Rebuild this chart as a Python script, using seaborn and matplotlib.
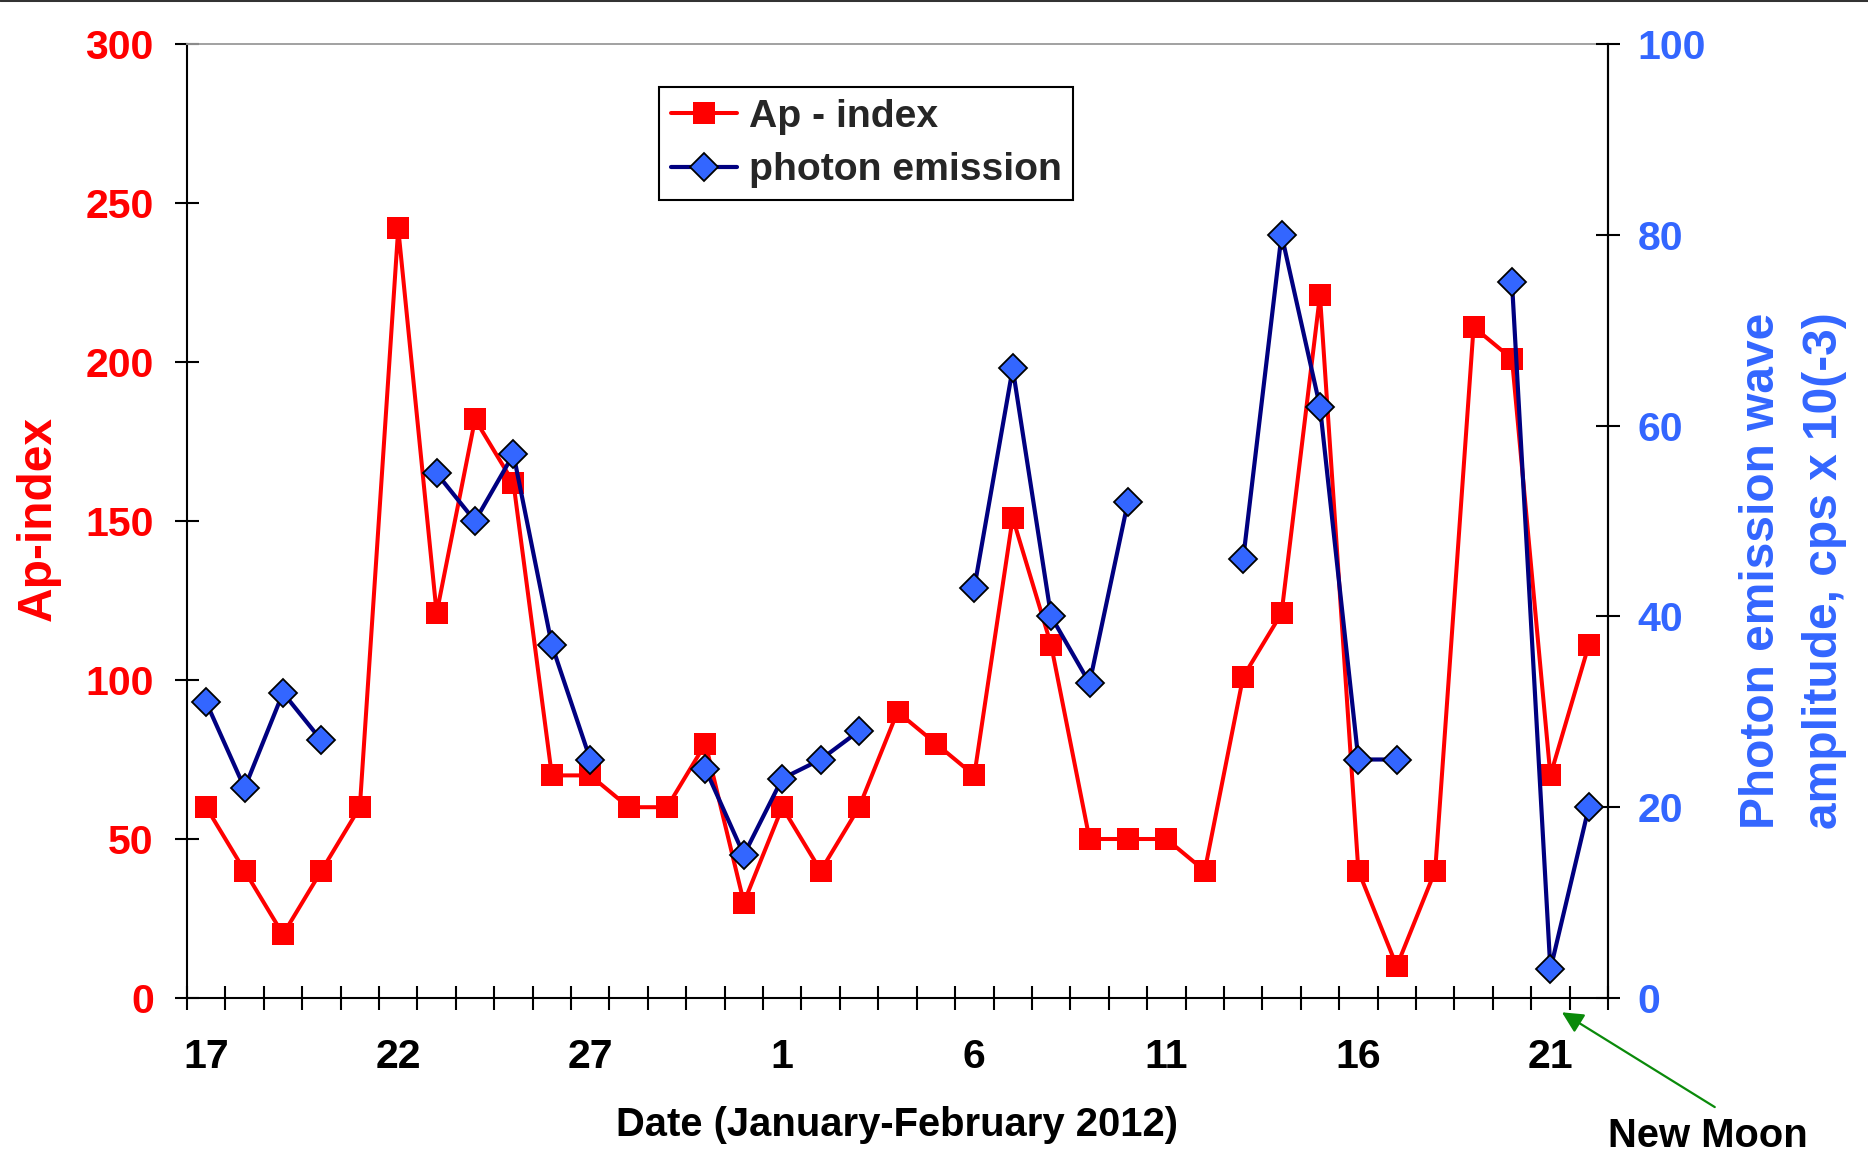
import numpy as np
import pandas as pd
import matplotlib
matplotlib.use("Agg")
import matplotlib.pyplot as plt
import seaborn as sns
from matplotlib.lines import Line2D

# Daily series, 17 January - 22 February 2012 (day 0 = 17 Jan)
days = list(range(37))
tick_days = [0, 5, 10, 15, 20, 25, 30, 35]
tick_labels = ["17", "22", "27", "1", "6", "11", "16", "21"]

ap_index = [60, 40, 20, 40, 60, 242, 121, 182, 162, 70,
            70, 60, 60, 80, 30, 60, 40, 60, 90, 80,
            70, 151, 111, 50, 50, 50, 40, 101, 121, 221,
            40, 10, 40, 211, 201, 70, 111]

nan = np.nan
photon = [31, 22, 32, 27, nan, nan, 55, 50, 57, 37,
          25, nan, nan, 24, 15, 23, 25, 28, nan, nan,
          43, 66, 40, 33, 52, nan, nan, 46, 80, 62,
          25, 25, nan, nan, 75, 3, 20]

new_moon_day = 35.3

RED = "#FF0000"
BLUE = "#3366FF"
NAVY = "#000080"

sns.set_theme(style="white")
plt.rcParams["font.family"] = ["Liberation Sans", "DejaVu Sans"]
plt.rcParams["font.weight"] = "bold"
plt.rcParams["axes.labelweight"] = "bold"

df_ap = pd.DataFrame({"day": days, "ap": ap_index})
df_ph = pd.DataFrame({"day": days, "photon": photon})
valid = df_ph["photon"].notna()
df_ph["segment"] = (valid != valid.shift()).cumsum()
df_ph = df_ph[valid]

fig = plt.figure(figsize=(18.68, 11.68), dpi=100)
ax = fig.add_axes([187 / 1868, 1 - 998 / 1168, (1608 - 187) / 1868, (998 - 44) / 1168])
ax2 = ax.twinx()

sns.lineplot(data=df_ap, x="day", y="ap", ax=ax, color=RED, lw=2.9,
             marker="s", markersize=15.5, markeredgewidth=0,
             markerfacecolor=RED, legend=False)
sns.lineplot(data=df_ph, x="day", y="photon", units="segment", estimator=None,
             ax=ax2, color=NAVY, lw=3.0, marker="D", markersize=14.5,
             markerfacecolor=BLUE, markeredgecolor="black",
             markeredgewidth=1.3, legend=False)

# x axis: day labels centred on categories, tick marks at category borders
ax.set_xlim(-0.5, 36.5)
ax.set_xticks(tick_days)
ax.set_xticklabels(tick_labels)
ax.set_xticks(np.arange(-0.5, 37, 1), minor=True)
ax.tick_params(axis="x", which="major", length=0, pad=29, labelsize=29.5,
               labelcolor="black")
ax.tick_params(axis="x", which="minor", direction="inout", length=17,
               width=1.5, color="black", bottom=True)

ax.set_ylim(0, 300)
ax.set_yticks(np.arange(0, 301, 50))
ax.tick_params(axis="y", direction="inout", length=17, width=1.5,
               color="black", labelcolor=RED, labelsize=29.5, pad=15.5, left=True)

ax2.set_ylim(0, 100)
ax2.set_yticks(np.arange(0, 101, 20))
ax2.tick_params(axis="y", direction="inout", length=17, width=1.5,
                color="black", labelcolor=BLUE, labelsize=29.5, pad=13, right=True)

for name, sp in ax.spines.items():
    sp.set_visible(True)
    sp.set_color("black")
    sp.set_linewidth(1.5)
ax.spines["top"].set_color("#9a9a9a")
ax.spines["top"].set_linewidth(1.3)
for name, sp in ax2.spines.items():
    sp.set_visible(name == "right")
ax2.spines["right"].set_color("black")
ax2.spines["right"].set_linewidth(1.5)

ax.set_xlabel("Date (January-February 2012)", fontsize=28.8, fontweight="bold",
              color="black")
ax.xaxis.set_label_coords(0.5, -0.113)
ax.set_ylabel("Ap-index", fontsize=34.5, fontweight="bold", color=RED)
ax.yaxis.set_label_coords(-0.0887, 0.503)
ax2.set_ylabel("Photon emission wave\namplitude, cps x 10(-3)", fontsize=34.5,
               fontweight="bold", color=BLUE, multialignment="center",
               linespacing=1.5)
ax2.yaxis.set_label_coords(1.0922, 0.4476)

handles = [
    Line2D([], [], color=RED, lw=2.9, marker="s", markersize=15.5,
           markeredgewidth=0),
    Line2D([], [], color=NAVY, lw=3.0, marker="D", markersize=14.5,
           markerfacecolor=BLUE, markeredgecolor="black", markeredgewidth=1.3),
]
leg = ax2.legend(handles, ["Ap - index", "photon emission"], loc="upper left",
                 bbox_to_anchor=(0.332, 0.955), frameon=True, fancybox=False,
                 framealpha=1, edgecolor="black", fontsize=28.2,
                 handlelength=1.7, handletextpad=0.3, labelspacing=0.45,
                 borderpad=0.3, borderaxespad=0)
leg.get_frame().set_linewidth(1.5)
for t in leg.get_texts():
    t.set_fontweight("bold")

# New Moon marker below the axis
ax.annotate("", xy=(new_moon_day, -4.5), xytext=(39.28, -34.3),
            xycoords="data", textcoords="data", annotation_clip=False,
            arrowprops=dict(arrowstyle="-|>", color="#0a8a0a", lw=1.6,
                            mutation_scale=32, shrinkA=0, shrinkB=0))
ax.text(39.1, -43.4, "New Moon", ha="center", va="center", fontsize=28.8,
        fontweight="bold", color="black", clip_on=False)

fig.add_artist(Line2D([0, 1], [1, 1], transform=fig.transFigure,
                      color="#333333", lw=2.2))

fig.savefig("out.png", dpi=100)
